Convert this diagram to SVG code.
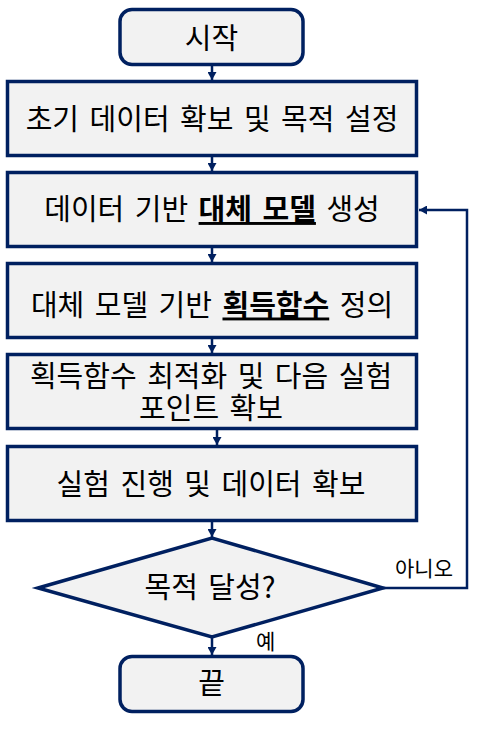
<svg xmlns="http://www.w3.org/2000/svg" width="481" height="730" viewBox="0 0 481 730">
<defs>
<marker id="ah" markerUnits="userSpaceOnUse" markerWidth="9" markerHeight="9" refX="8" refY="4.5" orient="auto">
<path d="M0,0 L8,4.5 L0,9 z" fill="#002060"/>
</marker>
<style>
.box{fill:#F2F2F2;stroke:#002060;stroke-width:3.5}
.t{font-family:"Noto Sans CJK KR","Noto Sans",sans-serif;font-size:29px;fill:#000;text-anchor:middle;word-spacing:4px}
.lab{font-family:"Noto Sans CJK KR","Noto Sans",sans-serif;font-size:21px;fill:#000}
.c{fill:none;stroke:#002060;stroke-width:2.5}
.b{font-weight:bold;text-decoration:underline}
</style>
</defs>
<rect width="481" height="730" fill="#fff"/>
<g id="connectors">
<line class="c" x1="212" y1="65" x2="212" y2="80" marker-end="url(#ah)"/>
<line class="c" x1="212" y1="156" x2="212" y2="171" marker-end="url(#ah)"/>
<line class="c" x1="212" y1="247" x2="212" y2="262" marker-end="url(#ah)"/>
<line class="c" x1="212" y1="338" x2="212" y2="353" marker-end="url(#ah)"/>
<line class="c" x1="217" y1="429" x2="217" y2="445" marker-end="url(#ah)"/>
<line class="c" x1="212" y1="521" x2="212" y2="537" marker-end="url(#ah)"/>
<line class="c" x1="212" y1="637" x2="212" y2="655" marker-end="url(#ah)"/>
<polyline class="c" points="383,588 467,588 467,210 419,210" marker-end="url(#ah)"/>
<text class="lab" x="395" y="576">아니오</text>
<text class="lab" x="256" y="649">예</text>
</g>
<g id="start">
<rect class="box" x="120" y="9.5" width="183" height="55" rx="12"/>
<text class="t" x="211.5" y="49">시작</text>
</g>
<g id="step1">
<rect class="box" x="7.5" y="81.5" width="409" height="74"/>
<text class="t" x="212" y="130">초기 데이터 확보 및 목적 설정</text>
</g>
<g id="step2">
<rect class="box" x="7.5" y="172.5" width="409" height="74"/>
<text class="t" x="212" y="220">데이터 기반 <tspan class="b">대체 모델</tspan> 생성</text>
</g>
<g id="step3">
<rect class="box" x="7.5" y="263.5" width="409" height="74"/>
<text class="t" x="212" y="315.5">대체 모델 기반 <tspan class="b">획득함수</tspan> 정의</text>
</g>
<g id="step4">
<rect class="box" x="7.5" y="354.5" width="409" height="74"/>
<text class="t"><tspan x="211" y="387">획득함수 최적화 및 다음 실험</tspan><tspan x="211" y="419">포인트 확보</tspan></text>
</g>
<g id="step5">
<rect class="box" x="7.5" y="446.5" width="409" height="74"/>
<text class="t" x="211" y="495">실험 진행 및 데이터 확보</text>
</g>
<g id="decision">
<polygon class="box" points="38,588 212,538 383,588 212,637"/>
<text class="t" x="210" y="598">목적 달성?</text>
</g>
<g id="end">
<rect class="box" x="120" y="656.5" width="183" height="55" rx="12"/>
<text class="t" x="211.5" y="694">끝</text>
</g>
</svg>
